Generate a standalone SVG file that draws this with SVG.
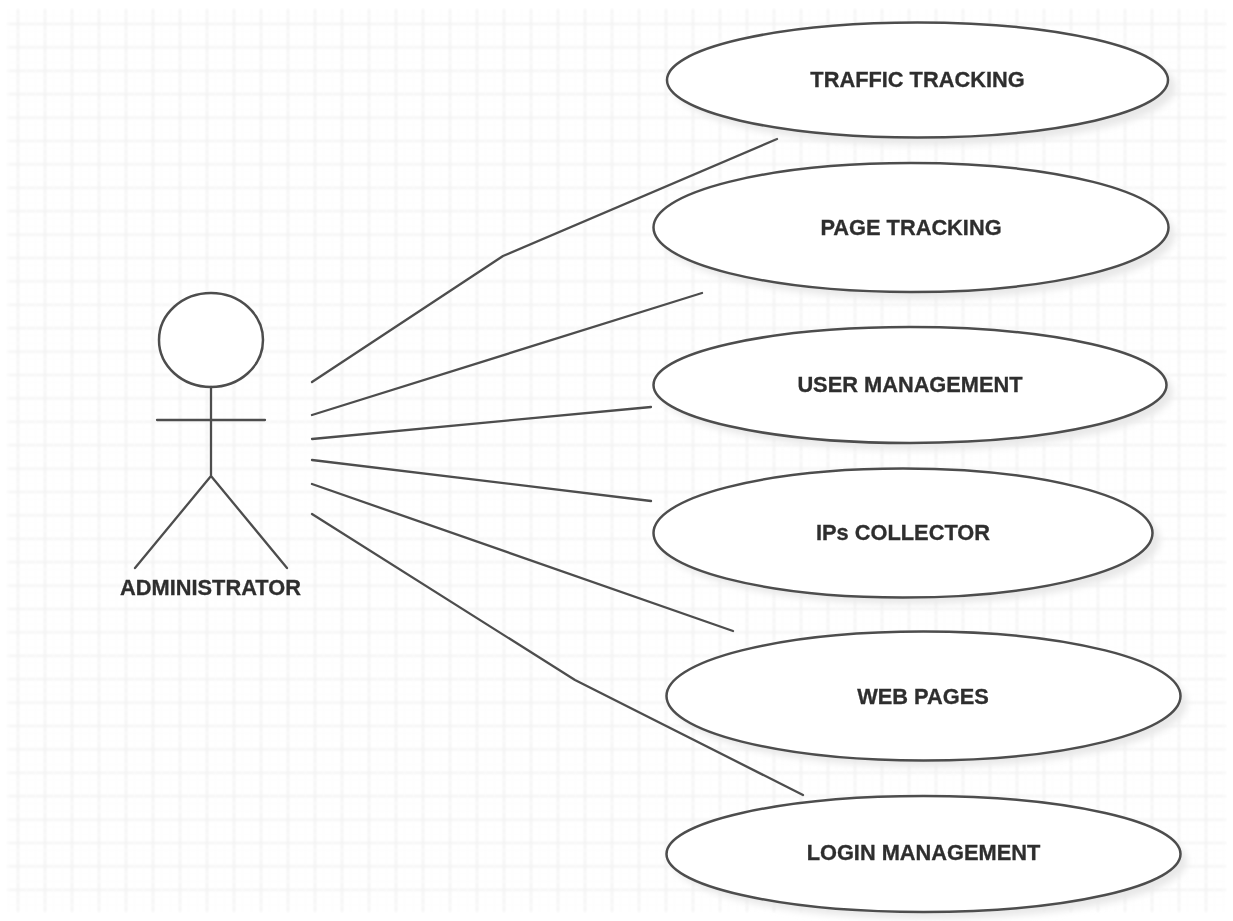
<svg xmlns="http://www.w3.org/2000/svg" width="1233" height="921" viewBox="0 0 1233 921">
<defs>
<pattern id="grid" patternUnits="userSpaceOnUse" x="17" y="23" width="27" height="23.4">
<path d="M0.5 0V23.4M0 0.5H27" fill="none" stroke="#f2f2f2" stroke-width="3"/>
<path d="M9.5 0V23.4M18.5 0V23.4M0 8.300H27M0 16H27" fill="none" stroke="#fcfcfc" stroke-width="1"/>
</pattern>
<filter id="blur" x="-10%" y="-10%" width="120%" height="120%"><feGaussianBlur stdDeviation="1.2"/></filter>
<filter id="soft" x="-10%" y="-20%" width="120%" height="140%"><feGaussianBlur stdDeviation="3.500"/></filter>
<filter id="tiny" x="-5%" y="-5%" width="110%" height="110%"><feGaussianBlur stdDeviation="0.6"/></filter>
</defs>
<style>
.uc{fill:#fff;stroke:#4d4d4d;stroke-width:2.5}
.sh{fill:#e8e8e8;filter:url(#soft)}
.ln{fill:none;stroke:#4d4d4d;stroke-width:2.3;stroke-linecap:round;stroke-linejoin:round}
text{font-family:"Liberation Sans",Arial,sans-serif;font-weight:700;font-size:21.800px;fill:#2e2e2e;stroke:#2e2e2e;stroke-width:0.3;text-anchor:middle}
</style>
<rect width="1233" height="921" fill="#fff"/>
<rect x="7" y="9" width="1219" height="903" fill="url(#grid)" filter="url(#blur)"/>
<g id="connectors" filter="url(#tiny)">
<path class="ln" d="M312 382L503 256L777 139"/>
<path class="ln" d="M312 415L702 293"/>
<path class="ln" d="M312 439L651 407"/>
<path class="ln" d="M312 460L651 501"/>
<path class="ln" d="M312 484L733 631"/>
<path class="ln" d="M312 514L575 680L803 795"/>
</g>
<g id="actor" filter="url(#tiny)">
<ellipse cx="211" cy="340" rx="52" ry="47" fill="#fff" stroke="#4d4d4d" stroke-width="2.500"/>
<path class="ln" d="M211 387V476M157 420H265M211 476L135 568M211 476L287 568"/>
<text x="210.500" y="595">ADMINISTRATOR</text>
</g>
<g id="traffic-tracking">
<ellipse class="sh" cx="925" cy="87" rx="251" ry="58"/>
<ellipse class="uc" cx="917.500" cy="80" rx="250.500" ry="57.500" filter="url(#tiny)"/>
<text x="917.500" y="87" filter="url(#tiny)">TRAFFIC TRACKING</text>
</g>
<g id="page-tracking">
<ellipse class="sh" cx="918" cy="235" rx="257" ry="64"/>
<ellipse class="uc" cx="911" cy="227.500" rx="257.500" ry="64.500" filter="url(#tiny)"/>
<text x="911" y="235" filter="url(#tiny)">PAGE TRACKING</text>
</g>
<g id="user-management">
<ellipse class="sh" cx="917" cy="392" rx="256" ry="58"/>
<ellipse class="uc" cx="910" cy="385" rx="256.500" ry="58" filter="url(#tiny)"/>
<text x="910" y="392" filter="url(#tiny)">USER MANAGEMENT</text>
</g>
<g id="ips-collector">
<ellipse class="sh" cx="910" cy="540" rx="250" ry="64"/>
<ellipse class="uc" cx="903" cy="533" rx="249.500" ry="64.500" filter="url(#tiny)"/>
<text x="903" y="540" filter="url(#tiny)">IPs COLLECTOR</text>
</g>
<g id="web-pages">
<ellipse class="sh" cx="930" cy="703" rx="257" ry="64"/>
<ellipse class="uc" cx="923.500" cy="696" rx="257" ry="64.500" filter="url(#tiny)"/>
<text x="923" y="704" filter="url(#tiny)">WEB PAGES</text>
</g>
<g id="login-management">
<ellipse class="sh" cx="930" cy="861" rx="257" ry="58"/>
<ellipse class="uc" cx="923.500" cy="854" rx="257" ry="58" filter="url(#tiny)"/>
<text x="923.500" y="860" filter="url(#tiny)">LOGIN MANAGEMENT</text>
</g>
</svg>
